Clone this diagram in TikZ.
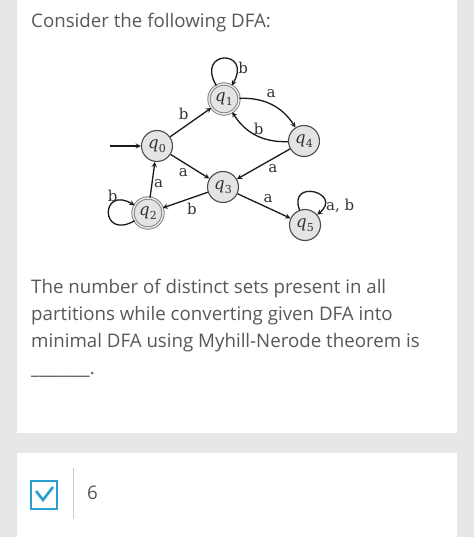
\documentclass[tikz,border=0pt]{standalone}
\usepackage{fontspec}
\newfontfamily\opensans{Open Sans}
\newfontfamily\dfafont{DejaVu Serif}
\usepackage{xcolor}
\usepackage{tikz}
\usetikzlibrary{arrows}

\definecolor{pagegray}{HTML}{E7E7E7}
\definecolor{textgray}{HTML}{585858}
\definecolor{statefill}{HTML}{E4E4E4}
\definecolor{tickblue}{HTML}{2A9FD2}
\newcommand{\qst}[1]{\textit{q}\kern0.3pt\raisebox{-0.22em}{\fontsize{11}{11}\selectfont #1}}

\begin{document}
\begin{tikzpicture}[
			x=1pt, y=-1pt,
			state/.style={draw=black!70, circle, fill=statefill, line width=1.1pt, minimum size=31pt, inner sep=0pt, font=\dfafont\fontsize{16.5}{16.5}\selectfont, text=black!80},
			accepting/.style={draw=black!50, double=statefill, double distance=1.5pt, line width=0.9pt, minimum size=30pt},
			trans/.style={->, draw=black!90, line width=1.3pt},
			lbl/.style={font=\dfafont\fontsize{15}{15}\selectfont, text=black!80, inner sep=1.5pt},
			qtext/.style={font=\opensans\fontsize{18.7}{18.7}\selectfont, text=textgray, anchor=base west, inner sep=0pt},
			>=stealth
			]
			
			% page and cards
			\fill[pagegray] (0,0) rectangle (474,537);
			\useasboundingbox (0,0) rectangle (474,537);
			\fill[white] (17,0) rectangle (457,433);
			\fill[white] (17,453) rectangle (457,537);
			
			% question text
			\node[qtext] (intro) at (31,28) {Consider the following DFA:};
			\node[qtext] (lineA) at (31,293) {The number of distinct sets present in all};
			\node[qtext] (lineB) at (31,320) {partitions while converting given DFA into};
			\node[qtext] (lineC) at (31,347) {minimal DFA using Myhill-Nerode theorem is};
			\node[qtext] (lineD) at (31,374) {\_\_\_\_\_\_\_.};
			
			% the DFA
			\node[state] (q0) at (157,146) {\qst{0}};
			\node[state,accepting] (q1) at (224,99) {\qst{1}};
			\node[state] (q4) at (304,141) {\qst{4}};
			\node[state] (q3) at (223,187) {\qst{3}};
			\node[state,accepting] (q2) at (148,213) {\qst{2}};
			\node[state] (q5) at (305,225) {\qst{5}};
			\coordinate (start) at (110,146);
			
			\draw[trans] (start) -- (q0);
			\draw[trans] (q0) -- node[lbl, above left] {b} (q1);
			\draw[trans] (q1) to[bend left=30] node[lbl, above right, inner sep=3pt, pos=0.35] {a} (q4);
			\draw[trans] (q4) to[bend left=30] node[lbl, above, pos=0.45] {b} (q1);
			\draw[trans] (q0) -- node[lbl, below left] {a} (q3);
			\draw[trans] (q4) -- node[lbl, below right, pos=0.45] {a} (q3);
			\draw[trans] (q3) -- node[lbl, below=3pt, pos=0.35] {b} (q2);
			\draw[trans] (q2) -- node[lbl, right, pos=0.4] {a} (q0);
			\draw[trans] (q3) -- node[lbl, above right, pos=0.45] {a} (q5);
			\draw[trans] (q1) to[out=120, in=60, distance=42pt] node[lbl, right, pos=0.8] {b} (q1);
			\draw[trans] (q2) to[out=210, in=150, distance=40pt] node[lbl, above, pos=0.7] {b} (q2);
			\draw[trans] (q5) to[out=110, in=40, distance=34pt] node[lbl, right, pos=0.85] {a, b} (q5);
			
			% answer card
			\draw[tickblue, line width=1.3pt] (31,481) rectangle (57,509);
			\coordinate (tickA) at (36,491);
			\coordinate (tickB) at (43,500);
			\coordinate (tickC) at (53,487);
			\draw[tickblue, line width=2.6pt] (tickA) -- (tickB) -- (tickC);
			\coordinate (sepTop) at (73,468);
			\coordinate (sepBot) at (73,519);
			\draw[black!20, line width=0.8pt] (sepTop) -- (sepBot);
			\node[qtext, anchor=west] (answer) at (87,493) {6};
		\end{tikzpicture}
\end{document}
